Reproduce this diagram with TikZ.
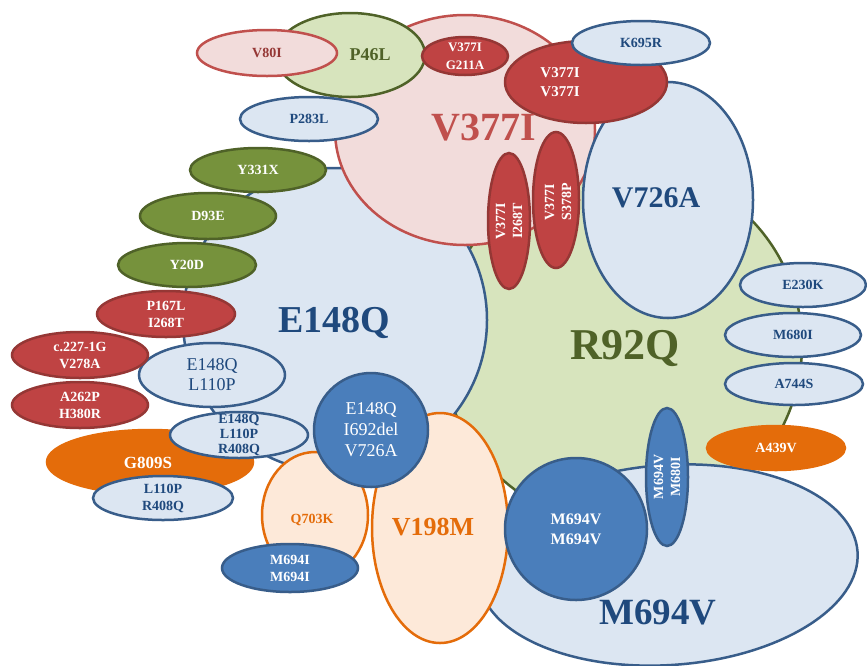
\documentclass[tikz,border=0pt]{standalone}
\usepackage{fontspec}
\setmainfont{Liberation Serif}
\usetikzlibrary{shapes.geometric}
\definecolor{lblue}{HTML}{DCE6F2}
\definecolor{dblue}{HTML}{385D8A}
\definecolor{tblue}{HTML}{1F497D}
\definecolor{pinkf}{HTML}{F2DCDB}
\definecolor{redb}{HTML}{C0504D}
\definecolor{redf}{HTML}{BF4343}
\definecolor{redd}{HTML}{953735}
\definecolor{lgreen}{HTML}{D7E4BD}
\definecolor{dgreen}{HTML}{4F6228}
\definecolor{olive}{HTML}{76923C}
\definecolor{peach}{HTML}{FDE9D9}
\definecolor{orng}{HTML}{E46C0A}
\definecolor{mblue}{HTML}{4A7EBB}
\newcommand\myfs[2]{\fontsize{#1}{#2}\selectfont}
\begin{document}
\begin{tikzpicture}[x=1pt,y=-1pt,
  sh/.style={ellipse,inner sep=0pt,line width=2.5pt},
  sz/.style 2 args={minimum width={2*#1}, minimum height={2*#2}},
  lb/.style={sh,fill=lblue,draw=dblue},
  pk/.style={sh,fill=pinkf,draw=redb},
  gr/.style={sh,fill=lgreen,draw=dgreen},
  pe/.style={sh,fill=peach,draw=orng},
  rd/.style={sh,fill=redf,draw=redd},
  ol/.style={sh,fill=olive,draw=dgreen},
  og/.style={sh,fill=orng,draw=orng},
  mb/.style={sh,fill=mblue,draw=dblue},
  lab/.style={align=center,inner sep=0pt,font=\bfseries\myfs{14}{17}},
  wt/.style={lab,text=white},
  bt/.style={lab,text=tblue},
  big/.style={align=center,inner sep=0pt,font=\bfseries\myfs{#1}{#1}},
]
\useasboundingbox[fill=white] (0,0) rectangle (867,665);
% large sets
\node[gr,sz={180}{180}] (r92q) at (622,345) {};
\node[lb,sz={152}{152}] (e148q) at (335,320) {};
\node[pk,sz={130}{115}] (v377i) at (465,130) {};
\node[lb,sz={85}{118}] (v726a) at (668,200) {};
\node[lb,sz={190}{100},rotate=4] (m694v) at (668,565) {};
\node[pe,sz={68}{115}] (v198m) at (440,528) {};
\node[pe,sz={53}{63}] (q703k) at (315,515) {};
\node[mb,sz={57}{57}] (ecirc) at (371,430) {};
\node[mb,sz={71}{71}] (mcirc) at (576,529) {};
% small sets
\node[gr,sz={75}{42}] (p46l) at (350,55) {};
\node[pk,sz={70}{23}] (v80i) at (267,53) {};
\node[rd,sz={43}{19}] (g211a) at (465,56) {};
\node[rd,sz={81}{41}] (vv) at (586,82) {};
\node[lb,sz={69}{22}] (k695r) at (641,43) {};
\node[lb,sz={69}{22}] (p283l) at (309,119) {};
\node[ol,sz={68}{22}] (y331x) at (258,170) {};
\node[ol,sz={68}{23}] (d93e) at (208,216) {};
\node[ol,sz={69}{22}] (y20d) at (187,265) {};
\node[rd,sz={69}{23}] (p167l) at (166,314) {};
\node[lb,sz={73}{32}] (el) at (212,375) {};
\node[rd,sz={68}{23}] (c227) at (80,355) {};
\node[rd,sz={68}{23}] (a262p) at (80,405) {};
\node[og,sz={103}{32}] (g809s) at (150,462) {};
\node[lb,sz={69}{23}] (elr) at (239,435) {};
\node[lb,sz={70}{22}] (lr) at (163,498) {};
\node[mb,sz={68}{24}] (m694i) at (290,568) {};
\node[rd,sz={21}{68}] (i268t) at (509,221) {};
\node[rd,sz={23}{68}] (s378p) at (556,200) {};
\node[mb,sz={21}{69}] (mm) at (667,477) {};
\node[lb,sz={63}{22}] (e230k) at (803,285) {};
\node[lb,sz={68}{22}] (m680i) at (793,335) {};
\node[lb,sz={69}{21}] (a744s) at (794,384) {};
\node[og,sz={69}{22}] (a439v) at (776,448) {};
% big labels
\node[big=40,text=redb] (t1) at (484,128) {V377I};
\node[big=38,text=tblue] (t2) at (334,323) {E148Q};
\node[big=30,text=tblue] (t3) at (656,198) {V726A};
\node[big=44,text=dgreen] (t4) at (625,348) {R92Q};
\node[big=37,text=tblue] (t5) at (658,613) {M694V};
\node[big=26,text=orng] (t6) at (433,527) {V198M};
\node[big=14,text=orng] (t7) at (312,520) {Q703K};
% small labels
\node[lab,text=dgreen,font=\bfseries\myfs{18}{18}] (t8) at (370,55) {P46L};
\node[lab,text=redd] (t9) at (267,53) {V80I};
\node[wt,font=\bfseries\myfs{13}{18}] (t10) at (g211a) {V377I\\G211A};
\node[wt,font=\bfseries\myfs{15}{19}] (t11) at (560,82) {V377I\\V377I};
\node[bt] (t12) at (k695r) {K695R};
\node[bt] (t13) at (p283l) {P283L};
\node[wt] (t14) at (y331x) {Y331X};
\node[wt] (t15) at (d93e) {D93E};
\node[wt] (t16) at (y20d) {Y20D};
\node[wt] (t17) at (p167l) {P167L\\I268T};
\node[bt,font=\myfs{18}{20}] (t18) at (el) {E148Q\\L110P};
\node[wt] (t19) at (c227) {c.227-1G\\V278A};
\node[wt] (t20) at (a262p) {A262P\\H380R};
\node[wt,font=\bfseries\myfs{17}{17}] (t21) at (148,463) {G809S};
\node[bt,font=\bfseries\myfs{14}{15}] (t22) at (elr) {E148Q\\L110P\\R408Q};
\node[bt] (t23) at (lr) {L110P\\R408Q};
\node[wt] (t24) at (m694i) {M694I\\M694I};
\node[wt,font=\myfs{18}{21}] (t25) at (ecirc) {E148Q\\I692del\\V726A};
\node[wt,font=\bfseries\myfs{16}{20}] (t26) at (mcirc) {M694V\\M694V};
\node[wt,rotate=90] (t27) at (i268t) {V377I\\I268T};
\node[wt,rotate=90] (t28) at (558,202) {V377I\\S378P};
\node[wt,rotate=90] (t29) at (mm) {M694V\\M680I};
\node[bt] (t30) at (e230k) {E230K};
\node[bt] (t31) at (m680i) {M680I};
\node[bt] (t32) at (a744s) {A744S};
\node[wt] (t33) at (a439v) {A439V};
\end{tikzpicture}
\end{document}
